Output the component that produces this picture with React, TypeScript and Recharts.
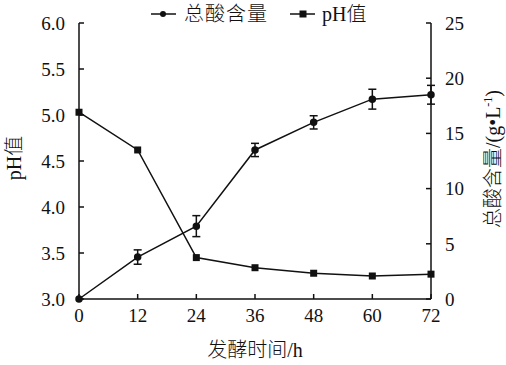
import React from "react";
import {
  ComposedChart,
  Line,
  XAxis,
  YAxis,
  ErrorBar,
  Legend,
} from "recharts";

// fermentation time (h)
const hours = [0, 12, 24, 36, 48, 60, 72];
// total acid content (g/L) and its error
const acid = [0, 3.8, 6.6, 13.5, 16.0, 18.1, 18.5];
const acidErr = [0, 0.65, 0.95, 0.6, 0.6, 0.9, 0.85];
// pH value
const ph = [5.03, 4.62, 3.45, 3.34, 3.28, 3.25, 3.27];

const xTicks = [0, 12, 24, 36, 48, 60, 72];
const phTicks = [3.0, 3.5, 4.0, 4.5, 5.0, 5.5, 6.0];
const acidTicks = [0, 5, 10, 15, 20, 25];

const data = hours.map((h, i) => ({
  h,
  acid: acid[i],
  acidErr: acidErr[i],
  ph: ph[i],
}));

const FONT = "'Liberation Serif', 'Times New Roman', 'Noto Sans CJK SC', serif";
const INK = "#111";
const CJK_WEIGHT = 300;

const SquareDot = (props: any) => {
  const { cx, cy, index } = props;
  if (cx == null || cy == null) return null;
  return <rect key={`sq-${index}`} x={cx - 3.5} y={cy - 3.5} width={7} height={7} fill={INK} />;
};

const LegendContent = () => (
  <svg width={506} height={30}>
    <g fontFamily={FONT} fontSize={20} fill={INK} fontWeight={CJK_WEIGHT}>
      <line x1={151} y1={14} x2={176} y2={14} stroke={INK} strokeWidth={1.5} />
      <circle cx={163} cy={14} r={3} fill={INK} />
      <text x={184} y={21} letterSpacing={1}>总酸含量</text>
      <line x1={290} y1={14} x2={315} y2={14} stroke={INK} strokeWidth={1.5} />
      <rect x={299.5} y={10.5} width={7} height={7} fill={INK} />
      <text x={322} y={21}>pH值</text>
    </g>
  </svg>
);

const tickStyle = { fontSize: 19, fontFamily: FONT, fill: INK };

export default function App() {
  return (
    <div style={{ position: "absolute", left: 0, top: 0, width: 506, height: 365, background: "#fff" }}>
      <ComposedChart
        width={506}
        height={365}
        data={data}
        margin={{ top: 23, right: 0, left: 0, bottom: 0 }}
      >
        <XAxis
          dataKey="h"
          type="number"
          domain={[0, 72]}
          ticks={xTicks}
          height={66}
          tickSize={-5}
          tickMargin={15}
          tick={tickStyle}
          axisLine={{ stroke: INK, strokeWidth: 1.5 }}
          tickLine={{ stroke: INK, strokeWidth: 1.5 }}
          label={{
            content: (p: any) => {
              const vb = p.viewBox;
              return (
                <text
                  x={vb.x + vb.width / 2}
                  y={357}
                  textAnchor="middle"
                  fontFamily={FONT}
                  fontSize={20}
                  fontWeight={CJK_WEIGHT}
                  fill={INK}
                >
                  发酵时间/h
                </text>
              );
            },
          }}
        />
        <YAxis
          yAxisId="ph"
          orientation="left"
          domain={[3, 6]}
          ticks={phTicks}
          width={79}
          tickSize={-5}
          tickMargin={19}
          tickFormatter={(v: number) => v.toFixed(1)}
          tick={tickStyle}
          axisLine={{ stroke: INK, strokeWidth: 1.5 }}
          tickLine={{ stroke: INK, strokeWidth: 1.5 }}
          label={{
            content: () => (
              <text
                x={21}
                y={158}
                transform="rotate(-90 21 158)"
                textAnchor="middle"
                fontFamily={FONT}
                fontSize={20}
                fontWeight={CJK_WEIGHT}
                fill={INK}
              >
                pH值
              </text>
            ),
          }}
        />
        <YAxis
          yAxisId="acid"
          orientation="right"
          domain={[0, 25]}
          ticks={acidTicks}
          width={75}
          tickSize={-5}
          tickMargin={19}
          tick={tickStyle}
          axisLine={{ stroke: INK, strokeWidth: 1.5 }}
          tickLine={{ stroke: INK, strokeWidth: 1.5 }}
          label={{
            content: () => (
              <text
                x={500}
                y={159}
                transform="rotate(-90 500 159)"
                textAnchor="middle"
                fontFamily={FONT}
                fontSize={20}
                fontWeight={CJK_WEIGHT}
                fill={INK}
              >
                总酸含量/(g•L
                <tspan fontSize={12} dy={-8}>-1</tspan>
                <tspan dy={8}>)</tspan>
              </text>
            ),
          }}
        />
        <Legend
          verticalAlign="middle"
          align="center"
          content={<LegendContent />}
          wrapperStyle={{ top: 0, left: 0, width: 506 }}
        />
        <Line
          yAxisId="acid"
          dataKey="acid"
          name="总酸含量"
          stroke={INK}
          strokeWidth={1.5}
          dot={{ r: 3, fill: INK, stroke: INK }}
          isAnimationActive={false}
        >
          <ErrorBar dataKey="acidErr" direction="y" width={4} stroke={INK} strokeWidth={1.5} />
        </Line>
        <Line
          yAxisId="ph"
          dataKey="ph"
          name="pH值"
          stroke={INK}
          strokeWidth={1.5}
          dot={SquareDot}
          isAnimationActive={false}
        />
      </ComposedChart>
    </div>
  );
}
